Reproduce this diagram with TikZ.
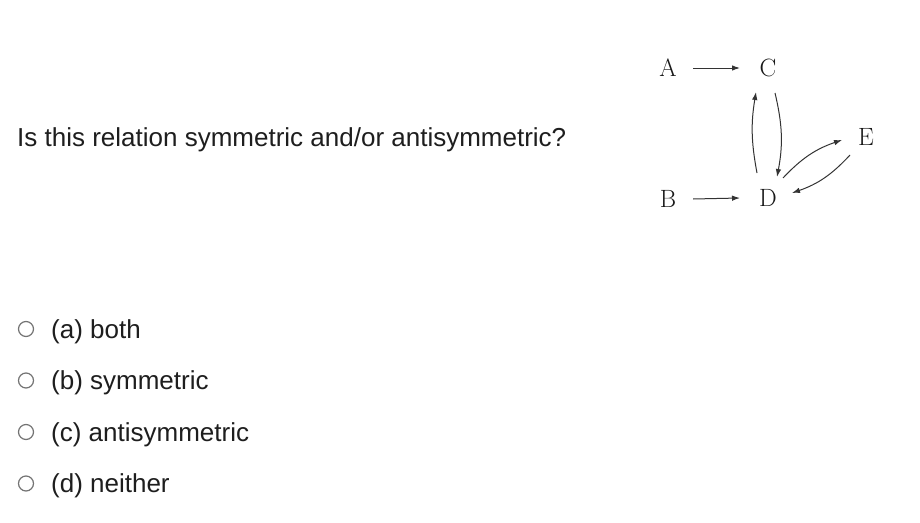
\documentclass[tikz,border=0pt]{standalone}
\usepackage{fontspec}
\setsansfont{Liberation Sans}
\usetikzlibrary{arrows.meta}
\definecolor{txt}{HTML}{1E1E1E}
\begin{document}
\begin{tikzpicture}[x=1pt,y=-1pt,
  q/.style={font=\sffamily\fontsize{26}{30}\selectfont, text=txt, anchor=base west, inner sep=0pt},
  opt/.style={circle, draw=black!55, line width=1.2pt, minimum size=15pt, inner sep=0pt},
  v/.style={font=\fontsize{25}{28}\selectfont, text=black!90, inner sep=0pt},
  e/.style={-{Latex[length=8pt,width=5.5pt]}, line width=1pt, black!80}]
\useasboundingbox (0,0) rectangle (920,522);
\fill[white] (0,0) rectangle (920,522);
\node[q] (qq) at (17,146) {Is this relation symmetric and/or antisymmetric?};
\foreach \y/\t/\n in {338/(a) both/a, 389.5/(b) symmetric/b, 441/(c) antisymmetric/c, 492.5/(d) neither/d}{
  \node[opt] (c\n) at (26,\y-9) {};
  \node[q] (t\n) at (51,\y) {\t};
}
\node[v] (A) at (668,68) {A};
\node[v] (C) at (768,68) {C};
\node[v] (B) at (668,199) {B};
\node[v] (D) at (768,198) {D};
\node[v] (E) at (866,137) {E};
\draw[e] ([xshift=25pt]A.center) -- ([xshift=-28pt]C.center);
\draw[e] ([xshift=25pt]B.center) -- ([xshift=-28pt]D.center);
\draw[e] ([shift={(-11pt,25pt)}]D.center) to[bend left=10] ([shift={(-12pt,-24pt)}]C.center);
\draw[e] ([shift={(7pt,-25pt)}]C.center) to[bend left=12] ([shift={(9pt,21pt)}]D.center);
\draw[e] ([shift={(15pt,20pt)}]D.center) to[bend left=14] ([shift={(-24pt,-3pt)}]E.center);
\draw[e] ([shift={(-16pt,-18pt)}]E.center) to[bend left=14] ([shift={(24pt,5pt)}]D.center);
\end{tikzpicture}
\end{document}
